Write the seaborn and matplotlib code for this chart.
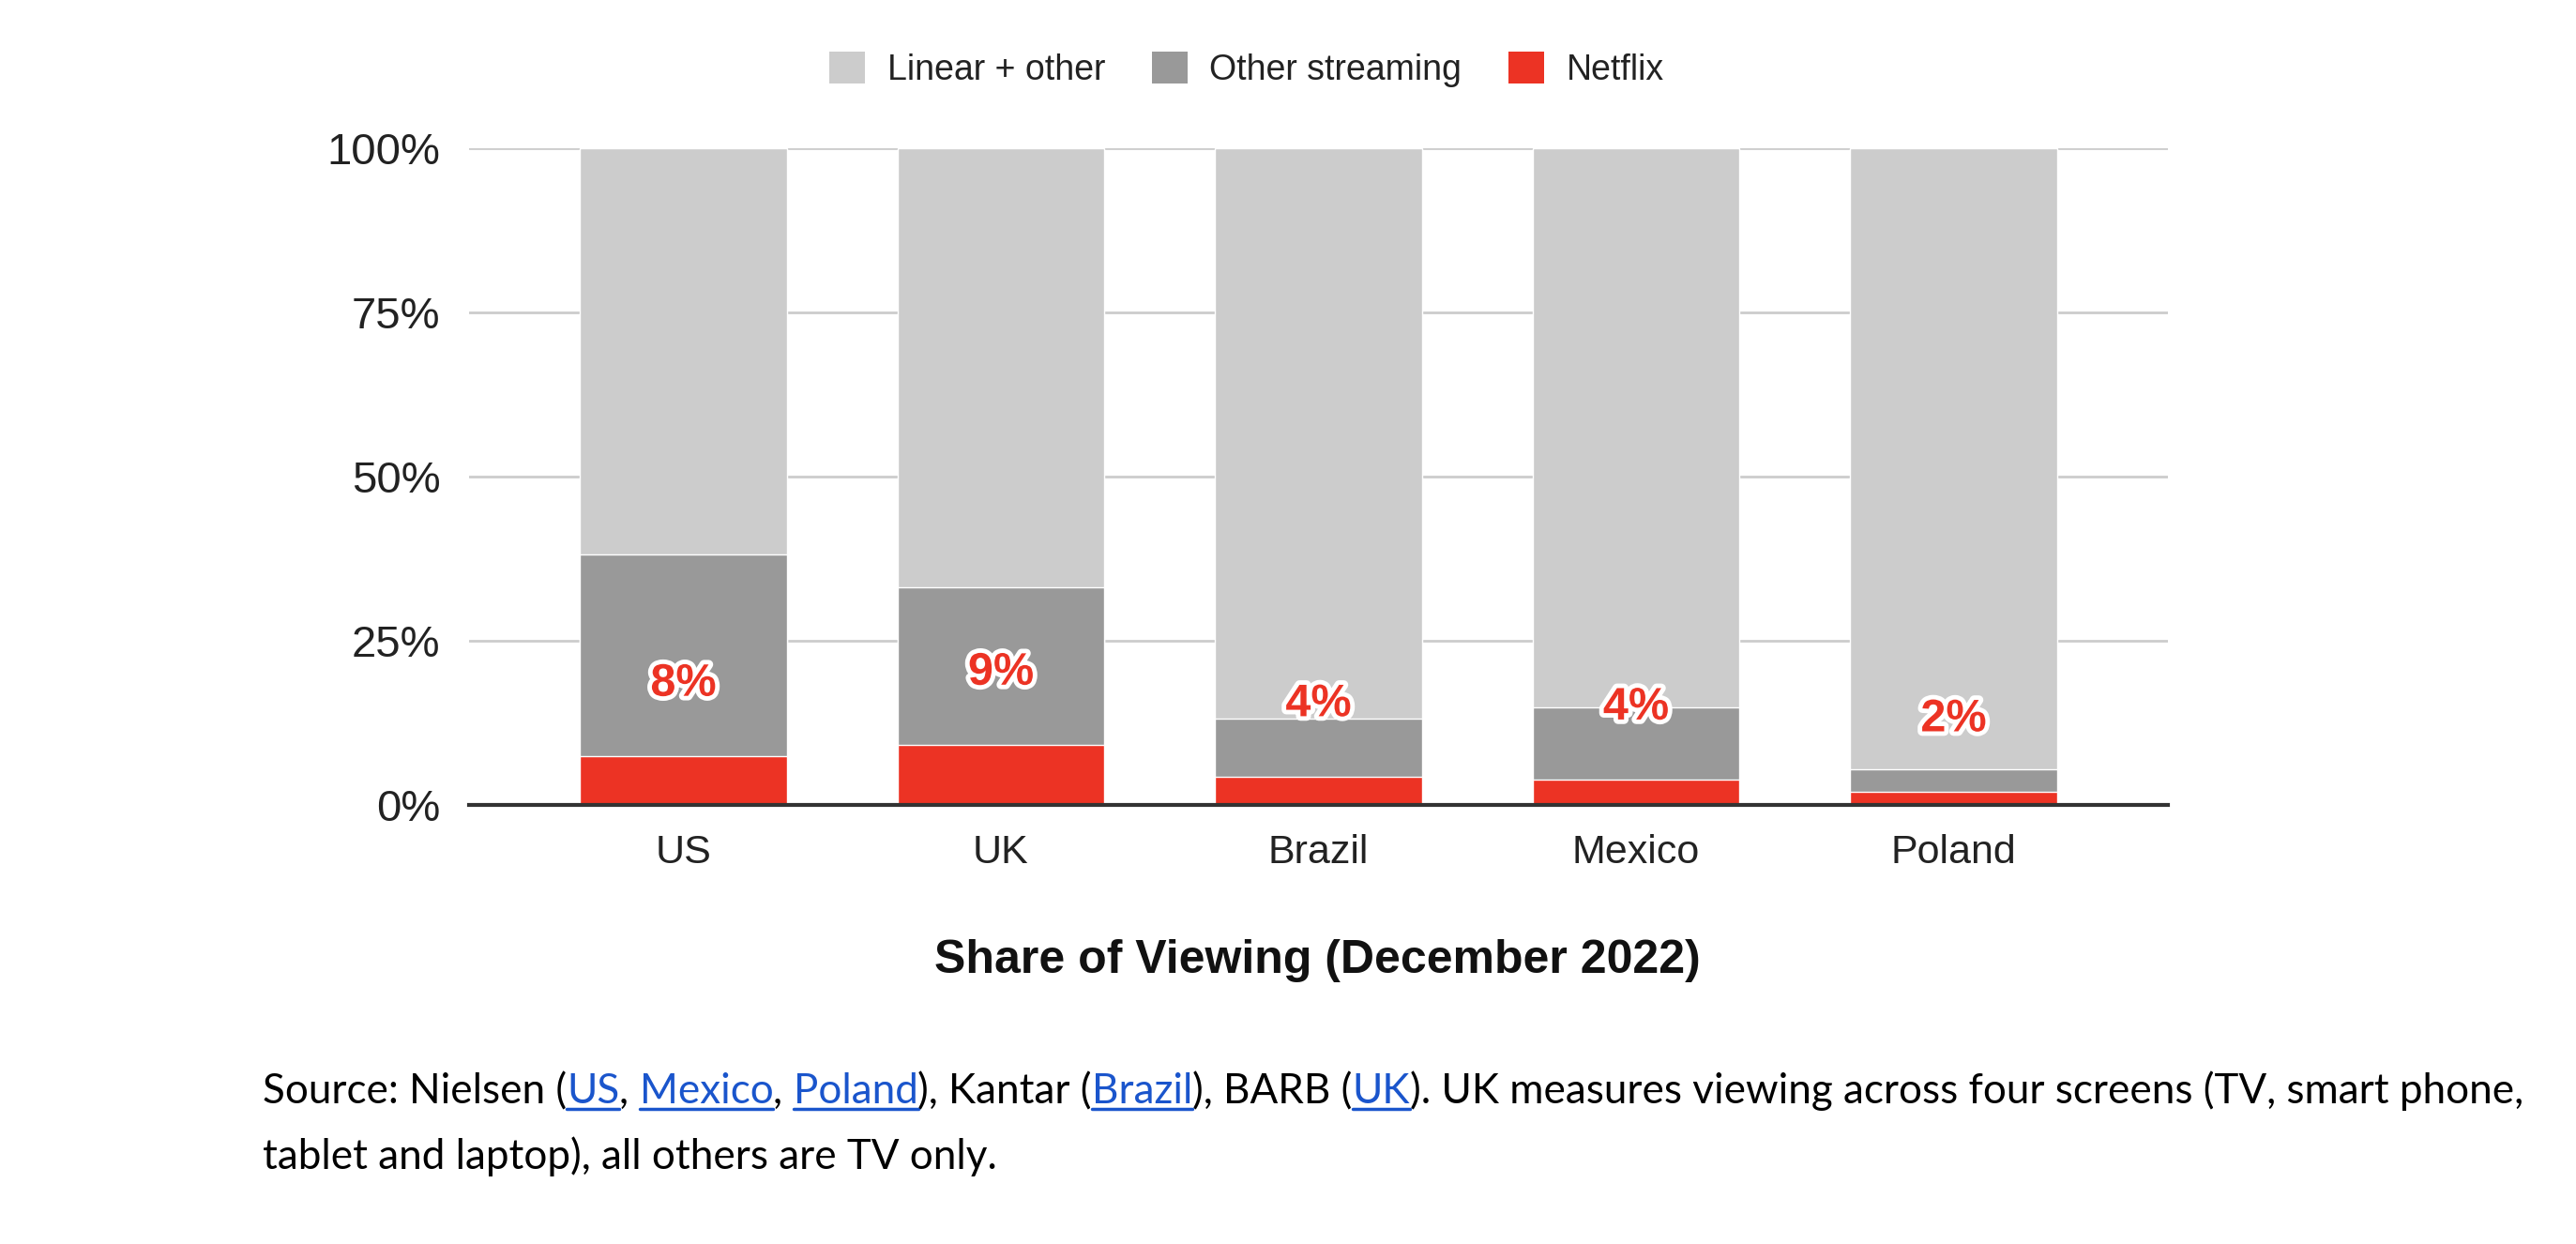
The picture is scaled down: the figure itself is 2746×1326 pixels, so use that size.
import numpy as np
import pandas as pd
import matplotlib
matplotlib.use("Agg")
import matplotlib.pyplot as plt
import matplotlib.patheffects as pe
from matplotlib.patches import Patch
import seaborn as sns

# data (percent of total viewing)
countries = ["US", "UK", "Brazil", "Mexico", "Poland"]
netflix = [7.4, 9.1, 4.3, 3.8, 2.0]
other_streaming = [30.8, 24.1, 8.8, 11.1, 3.5]
netflix_labels = ["8%", "9%", "4%", "4%", "2%"]
y_ticks = [0, 25, 50, 75, 100]
y_tick_labels = ["0%", "25%", "50%", "75%", "100%"]

series_names = ["Linear + other", "Other streaming", "Netflix"]
series_colors = ["#cccccc", "#999999", "#ec3324"]

df = pd.DataFrame({"country": countries, "netflix": netflix, "other": other_streaming})
df["streaming_total"] = df["netflix"] + df["other"]
df["linear"] = 100 - df["streaming_total"]
df["total"] = df["streaming_total"] + df["linear"]

sns.set_style("white")
plt.rcParams["font.family"] = ["Liberation Sans", "DejaVu Sans"]

W, H = 2746, 1326
fig = plt.figure(figsize=(W / 100, H / 100), dpi=100)
ax = fig.add_axes([500 / W, 1 - 858 / H, (2311 - 500) / W, (858 - 158) / H])

# stacked bars: draw the cumulative totals on top of each other
sns.barplot(data=df, x="country", y="total", color=series_colors[0], width=0.65,
            saturation=1, ax=ax, zorder=2)
sns.barplot(data=df, x="country", y="streaming_total", color=series_colors[1], width=0.65,
            saturation=1, ax=ax, zorder=3)
sns.barplot(data=df, x="country", y="netflix", color=series_colors[2], width=0.65,
            saturation=1, ax=ax, zorder=4)

# netflix share labels, floating a fixed distance above the red segment
for i, (val, lab) in enumerate(zip(df["netflix"], netflix_labels)):
    ax.annotate(lab, (i, val), xytext=(0, 77), textcoords="offset pixels",
                ha="center", va="center", fontsize=35, fontweight="bold",
                color=series_colors[2], zorder=6,
                path_effects=[pe.withStroke(linewidth=7, foreground="white")])

ax.set_xlim(-0.675, len(countries) - 1 + 0.675)
ax.set_ylim(0, 100)
ax.set_yticks(y_ticks)
ax.set_yticklabels(y_tick_labels)
ax.set_xlabel("")
ax.set_ylabel("")
ax.tick_params(axis="y", labelsize=34, pad=22, length=0)
ax.tick_params(axis="x", labelsize=31, pad=22, length=0)
for t in ax.get_yticklabels() + ax.get_xticklabels():
    t.set_color("#222222")

ax.grid(axis="y", color="#cccccc", linewidth=2, zorder=0)
ax.set_axisbelow(True)
for s in ["top", "right", "left"]:
    ax.spines[s].set_visible(False)
ax.spines["bottom"].set_color("#333333")
ax.spines["bottom"].set_linewidth(3)
ax.spines["bottom"].set_zorder(5)

# legend on top
handles = [Patch(facecolor=c, edgecolor="none", label=n) for n, c in zip(series_names, series_colors)]
fig.legend(handles=handles, loc="center", bbox_to_anchor=(1329 / W, 1 - 74 / H), ncol=3,
           frameon=False, fontsize=27, handlelength=1.0, handleheight=1.0,
           handletextpad=0.63, columnspacing=1.34, labelcolor="#222222")

# title under the axis
fig.text(1404 / W, 1 - 1024 / H, "Share of Viewing (December 2022)", ha="center", va="center",
         fontsize=36, fontweight="bold", color="#111111")

# source note, with the link words in blue and underlined
line1 = [("Source: Nielsen (", False), ("US", True), (", ", False), ("Mexico", True),
         (", ", False), ("Poland", True), ("), Kantar (", False), ("Brazil", True),
         ("), BARB (", False), ("UK", True),
         ("). UK measures viewing across four screens (TV, smart phone,", False)]
line2 = [("tablet and laptop), all others are TV only.", False)]

fig.canvas.draw()
renderer = fig.canvas.get_renderer()
src_font = dict(fontsize=31.7, family=["Lato", "DejaVu Sans"])


def text_width(s):
    # width in pixels; the bar trick keeps trailing spaces counted
    t = fig.text(0, 0, s + "|", **src_font)
    w = t.get_window_extent(renderer).width
    t.remove()
    t = fig.text(0, 0, "|", **src_font)
    w -= t.get_window_extent(renderer).width
    t.remove()
    return w


def draw_line(segments, x0, y_base):
    prefix = ""
    for seg, is_link in segments:
        x = x0 + text_width(prefix)
        col = "#1a55cc" if is_link else "black"
        fig.text(x / W, 1 - y_base / H, seg, ha="left", va="baseline", color=col, **src_font)
        if is_link:
            w = text_width(seg)
            fig.add_artist(plt.Line2D([x / W, (x + w) / W], [1 - (y_base + 6) / H] * 2,
                                      color=col, linewidth=2.5))
        prefix += seg


draw_line(line1, 280, 1176)
draw_line(line2, 280, 1246)

fig.savefig("out.png", dpi=100, facecolor="white")
